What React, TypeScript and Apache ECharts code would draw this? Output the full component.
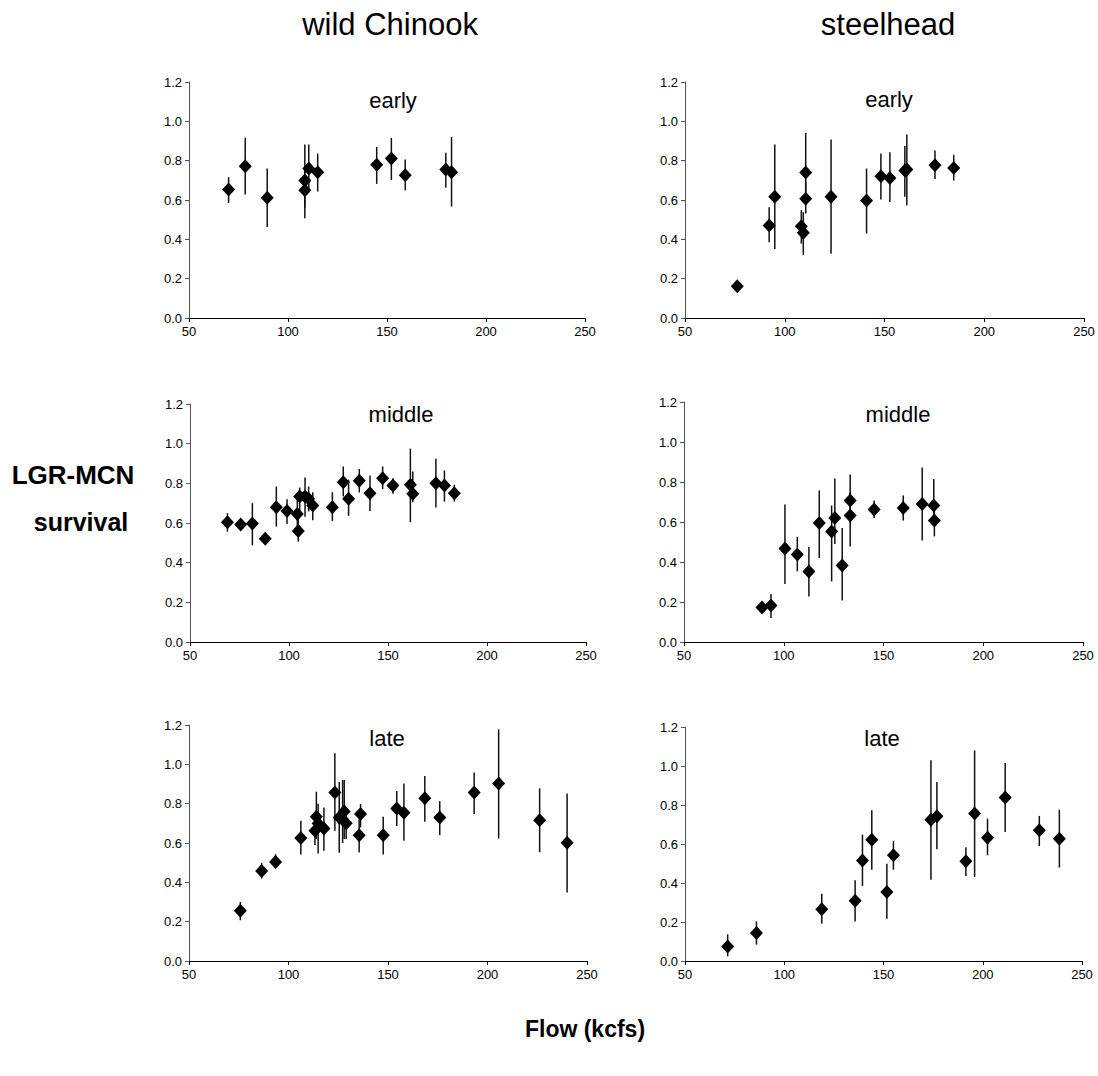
import React, { useEffect, useRef } from "react";
import * as echarts from "echarts";

// [flow (kcfs), survival, lower, upper]
const chinookEarly = [
  [70.0, 0.653, 0.585, 0.716],
  [78.4, 0.772, 0.628, 0.916],
  [89.5, 0.611, 0.463, 0.76],
  [108.5, 0.699, 0.56, 0.882],
  [108.5, 0.65, 0.507, 0.77],
  [110.5, 0.76, 0.64, 0.882],
  [115.0, 0.741, 0.643, 0.836],
  [144.8, 0.779, 0.682, 0.87],
  [152.2, 0.811, 0.702, 0.916],
  [159.2, 0.726, 0.65, 0.806],
  [179.7, 0.755, 0.662, 0.84],
  [182.6, 0.741, 0.567, 0.921],
];

const steelheadEarly = [
  [76.2, 0.161, 0.15, 0.17],
  [92.2, 0.47, 0.385, 0.563],
  [95.0, 0.616, 0.351, 0.882],
  [108.3, 0.466, 0.378, 0.548],
  [109.3, 0.433, 0.321, 0.538],
  [110.5, 0.74, 0.62, 0.941],
  [110.5, 0.606, 0.531, 0.69],
  [123.2, 0.616, 0.327, 0.908],
  [141.0, 0.597, 0.429, 0.76],
  [148.2, 0.721, 0.602, 0.836],
  [152.7, 0.712, 0.59, 0.843],
  [160.2, 0.75, 0.616, 0.874],
  [161.2, 0.755, 0.572, 0.933],
  [175.3, 0.777, 0.707, 0.852],
  [184.7, 0.763, 0.699, 0.83],
];

const chinookMiddle = [
  [68.9, 0.604, 0.556, 0.649],
  [75.6, 0.592, 0.57, 0.615],
  [81.5, 0.597, 0.487, 0.7],
  [88.0, 0.521, 0.5, 0.54],
  [93.6, 0.68, 0.582, 0.784],
  [99.0, 0.661, 0.595, 0.72],
  [104.2, 0.646, 0.58, 0.73],
  [104.7, 0.56, 0.506, 0.62],
  [105.4, 0.734, 0.66, 0.779],
  [108.1, 0.734, 0.632, 0.83],
  [109.9, 0.722, 0.658, 0.784],
  [112.0, 0.688, 0.614, 0.755],
  [121.9, 0.68, 0.61, 0.755],
  [127.4, 0.806, 0.734, 0.885],
  [130.1, 0.722, 0.636, 0.818],
  [135.5, 0.813, 0.754, 0.872],
  [140.9, 0.75, 0.661, 0.84],
  [147.3, 0.826, 0.771, 0.885],
  [152.5, 0.789, 0.747, 0.826],
  [161.3, 0.793, 0.604, 0.975],
  [162.5, 0.747, 0.705, 0.86],
  [174.2, 0.801, 0.678, 0.924],
  [178.5, 0.789, 0.708, 0.865],
  [183.5, 0.75, 0.708, 0.793],
];

const steelheadMiddle = [
  [89.1, 0.173, 0.16, 0.185],
  [93.6, 0.183, 0.12, 0.24],
  [100.6, 0.467, 0.29, 0.687],
  [106.8, 0.437, 0.353, 0.525],
  [112.6, 0.353, 0.227, 0.475],
  [117.8, 0.595, 0.42, 0.758],
  [124.0, 0.553, 0.303, 0.682],
  [125.6, 0.62, 0.49, 0.817],
  [129.3, 0.383, 0.208, 0.57],
  [133.3, 0.707, 0.6, 0.837],
  [133.3, 0.633, 0.478, 0.75],
  [145.3, 0.663, 0.62, 0.707],
  [159.9, 0.67, 0.607, 0.733],
  [169.4, 0.69, 0.507, 0.873],
  [175.2, 0.683, 0.62, 0.815],
  [175.5, 0.608, 0.528, 0.66],
];

const chinookLate = [
  [75.8, 0.255, 0.207, 0.3],
  [86.5, 0.458, 0.419, 0.499],
  [93.5, 0.504, 0.474, 0.543],
  [106.2, 0.626, 0.542, 0.713],
  [113.3, 0.662, 0.59, 0.72],
  [114.0, 0.733, 0.62, 0.861],
  [114.9, 0.699, 0.547, 0.8],
  [117.8, 0.674, 0.56, 0.781],
  [123.3, 0.857, 0.662, 1.056],
  [125.5, 0.73, 0.55, 0.91],
  [127.2, 0.72, 0.6, 0.92],
  [128.0, 0.76, 0.62, 0.92],
  [129.0, 0.7, 0.62, 0.78],
  [136.2, 0.747, 0.68, 0.798],
  [135.5, 0.64, 0.552, 0.72],
  [147.6, 0.64, 0.542, 0.733],
  [154.4, 0.776, 0.686, 0.864],
  [158.0, 0.754, 0.611, 0.903],
  [168.5, 0.827, 0.708, 0.941],
  [176.0, 0.73, 0.64, 0.813],
  [193.3, 0.857, 0.747, 0.959],
  [205.6, 0.903, 0.623, 1.178],
  [226.2, 0.716, 0.553, 0.878],
  [240.0, 0.601, 0.348, 0.852],
];

const steelheadLate = [
  [71.5, 0.075, 0.024, 0.137],
  [86.0, 0.144, 0.084, 0.203],
  [118.9, 0.265, 0.191, 0.345],
  [135.7, 0.309, 0.203, 0.414],
  [139.4, 0.516, 0.385, 0.648],
  [144.1, 0.622, 0.468, 0.773],
  [151.7, 0.354, 0.217, 0.499],
  [155.0, 0.542, 0.468, 0.615],
  [173.9, 0.725, 0.417, 1.029],
  [176.9, 0.742, 0.573, 0.918],
  [191.5, 0.511, 0.436, 0.583],
  [195.9, 0.756, 0.431, 1.08],
  [202.4, 0.632, 0.542, 0.73],
  [211.3, 0.839, 0.662, 1.015],
  [228.5, 0.67, 0.59, 0.744],
  [238.6, 0.627, 0.479, 0.776],
];

const columnTitles = ["wild Chinook", "steelhead"];
const periodLabels = ["early", "middle", "late"];
const xTicks = [50, 100, 150, 200, 250];
const yTicks = [0, 0.2, 0.4, 0.6, 0.8, 1.0, 1.2];

const panels = [chinookEarly, steelheadEarly, chinookMiddle, steelheadMiddle, chinookLate, steelheadLate];

const grids = [
  { left: 189, top: 82, width: 396, height: 236 },
  { left: 685, top: 82, width: 399, height: 236 },
  { left: 190, top: 404, width: 396, height: 238 },
  { left: 684, top: 402, width: 399, height: 240 },
  { left: 189, top: 725, width: 398, height: 236 },
  { left: 685, top: 727, width: 397, height: 234 },
];

const labelPos = [
  [393, 100],
  [889, 99],
  [401, 414],
  [898, 414],
  [387, 738],
  [882, 738],
];

const FONT = "'Liberation Sans', Arial, Helvetica, sans-serif";

export default function App() {
  const ref = useRef<HTMLDivElement>(null);

  useEffect(() => {
    if (!ref.current) return;
    const chart = echarts.init(ref.current, undefined, { renderer: "svg" });

    const xAxis = grids.map((_, i) => ({
      type: "value",
      gridIndex: i,
      min: xTicks[0],
      max: xTicks[xTicks.length - 1],
      interval: 50,
      axisLine: { show: true, onZero: false, lineStyle: { color: "#000", width: 1 } },
      axisTick: { show: true, length: 4, inside: false, lineStyle: { color: "#000" } },
      axisLabel: { color: "#000", fontSize: 13, fontFamily: FONT, margin: 7 },
      splitLine: { show: false },
    }));

    const yAxis = grids.map((_, i) => ({
      type: "value",
      gridIndex: i,
      min: yTicks[0],
      max: yTicks[yTicks.length - 1],
      interval: 0.2,
      axisLine: { show: true, lineStyle: { color: "#555", width: 1 } },
      axisTick: { show: true, length: 4, inside: false, lineStyle: { color: "#555" } },
      axisLabel: {
        color: "#000",
        fontSize: 13,
        fontFamily: FONT,
        margin: 7,
        formatter: (v: number) => v.toFixed(1),
      },
      splitLine: { show: false },
    }));

    const series: any[] = [];
    panels.forEach((data, i) => {
      series.push({
        type: "custom",
        xAxisIndex: i,
        yAxisIndex: i,
        data: data,
        encode: { x: 0, y: [2, 3] },
        renderItem: (params: any, api: any) => {
          const x = api.value(0);
          const lo = api.value(2);
          const hi = api.value(3);
          const p1 = api.coord([x, lo]);
          const p2 = api.coord([x, hi]);
          return {
            type: "line",
            shape: { x1: p1[0], y1: p1[1], x2: p2[0], y2: p2[1] },
            style: { stroke: "#111", lineWidth: 1.5 },
          };
        },
        z: 2,
      });
      series.push({
        type: "scatter",
        xAxisIndex: i,
        yAxisIndex: i,
        data: data.map((d) => [d[0], d[1]]),
        symbol: "diamond",
        symbolSize: [13, 14],
        itemStyle: { color: "#000", opacity: 1 },
        z: 3,
      });
    });

    const graphic: any[] = [];
    columnTitles.forEach((t, c) => {
      graphic.push({
        type: "text",
        x: c === 0 ? 390 : 888,
        y: 24,
        style: {
          text: t,
          fontSize: 31,
          fontFamily: FONT,
          fill: "#000",
          textAlign: "center",
          textVerticalAlign: "middle",
        },
      });
    });
    labelPos.forEach((p, i) => {
      graphic.push({
        type: "text",
        x: p[0],
        y: p[1],
        style: {
          text: periodLabels[Math.floor(i / 2)],
          fontSize: 22,
          fontFamily: FONT,
          fill: "#000",
          textAlign: "center",
          textVerticalAlign: "middle",
        },
      });
    });
    graphic.push({
      type: "text",
      x: 73,
      y: 475,
      style: {
        text: "LGR-MCN",
        fontSize: 26,
        fontWeight: "bold",
        fontFamily: FONT,
        fill: "#000",
        textAlign: "center",
        textVerticalAlign: "middle",
      },
    });
    graphic.push({
      type: "text",
      x: 81,
      y: 522,
      style: {
        text: "survival",
        fontSize: 25,
        fontWeight: "bold",
        fontFamily: FONT,
        fill: "#000",
        textAlign: "center",
        textVerticalAlign: "middle",
      },
    });
    graphic.push({
      type: "text",
      x: 585,
      y: 1029,
      style: {
        text: "Flow (kcfs)",
        fontSize: 23,
        fontWeight: "bold",
        fontFamily: FONT,
        fill: "#000",
        textAlign: "center",
        textVerticalAlign: "middle",
      },
    });

    chart.setOption({
      animation: false,
      backgroundColor: "#fff",
      grid: grids.map((g) => ({ ...g, containLabel: false })),
      xAxis,
      yAxis,
      series,
      graphic,
    });

    return () => chart.dispose();
  }, []);

  return (
    <div
      ref={ref}
      style={{ position: "absolute", left: 0, top: 0, width: 1098, height: 1076, background: "#fff" }}
    />
  );
}
